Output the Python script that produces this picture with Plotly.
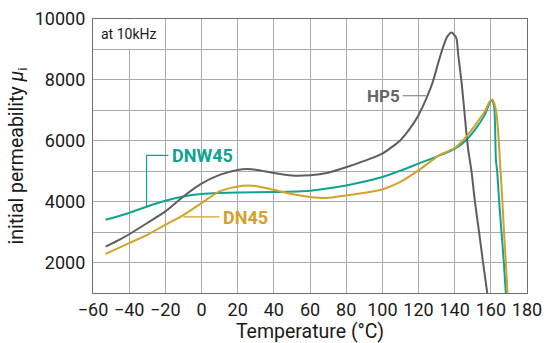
import plotly.graph_objects as go

# ---- data ----
hp5_t = [-53, -45, -40, -30, -20, -10, 0, 10, 20, 25, 30, 40, 50, 60, 70, 80, 90, 100,
         110, 115, 120, 125, 128, 131, 134, 136, 138.3, 140, 141, 142, 144, 146, 147.5,
         149.3, 151.2, 153.5, 155.7, 158]
hp5_mu = [2520, 2760, 2930, 3300, 3680, 4170, 4590, 4880, 5040, 5070, 5050, 4940, 4860,
          4870, 4950, 5130, 5340, 5580, 6020, 6380, 6840, 7480, 7950, 8580, 9150, 9430,
          9556, 9460, 9360, 8810, 7820, 6560, 5700, 5000, 4000, 3000, 2000, 1000]

dnw45_t = [-53, -40, -30, -20, -10, 0, 10, 20, 40, 60, 70, 80, 100, 110, 120, 130, 140,
           146.6, 152, 156.7, 159.8, 160.6, 161.8, 162.8, 163.5, 164.6, 165.9, 167.2, 168.3]
dnw45_mu = [3405, 3630, 3842, 4030, 4171, 4250, 4285, 4303, 4316, 4360, 4440, 4533, 4809,
            5020, 5250, 5480, 5730, 6036, 6421, 6860, 7296, 7330, 7130, 5378, 5000, 4000,
            3000, 2000, 1000]

dn45_t = [-53, -40, -30, -20, -10, 0, 10, 20, 25.7, 30, 40, 50, 60, 69, 80, 90, 100, 110,
          120, 132, 140, 146.6, 152, 156.7, 159.4, 160.9, 162.8, 164.1, 165, 166.4, 167.3,
          168.3, 169.2]
dn45_mu = [2286, 2638, 2911, 3240, 3560, 3954, 4336, 4500, 4533, 4515, 4391, 4250, 4151,
           4118, 4204, 4290, 4401, 4650, 5026, 5543, 5763, 6145, 6563, 6967, 7296, 7352,
           7023, 6257, 5378, 4000, 3000, 2000, 1000]

x_ticks = [-60, -40, -20, 0, 20, 40, 60, 80, 100, 120, 140, 160, 180]
y_ticks = [2000, 4000, 6000, 8000, 10000]

GRAY = "#5e5e5e"
TEAL = "#0fa392"
GOLD = "#d3a12a"
FONT = "Roboto"
TXT = "#1a1a1a"

fig = go.Figure()
for t, mu, c, name in [(dnw45_t, dnw45_mu, TEAL, "DNW45"),
                       (hp5_t, hp5_mu, GRAY, "HP5"),
                       (dn45_t, dn45_mu, GOLD, "DN45")]:
    fig.add_trace(go.Scatter(x=t, y=mu, mode="lines", name=name,
                             line=dict(color=c, width=2, shape="spline", smoothing=0.7),
                             showlegend=False, hoverinfo="skip"))

# white patch behind "at 10kHz"
fig.add_shape(type="rect", x0=-59.6, x1=-23.5, y0=9020, y1=9985, xref="x", yref="y",
              fillcolor="white", line=dict(width=0), layer="above")

# leader lines
fig.add_shape(type="path", path="M -30.4,3842 L -30.4,5520 L -18.3,5520",
              line=dict(color=TEAL, width=1.2), layer="above")
fig.add_shape(type="line", x0=-10, x1=10.0, y0=3500, y1=3500,
              line=dict(color=GOLD, width=1.2), layer="above")
fig.add_shape(type="line", x0=111.2, x1=124.5, y0=7480, y1=7480,
              line=dict(color="#8a8a8a", width=1.2), layer="above")

fig.add_annotation(x=-17.6, y=5520, text="<b>DNW45</b>", showarrow=False, xanchor="left",
                   yanchor="middle", font=dict(family=FONT, size=18, color=TEAL))
fig.add_annotation(x=11.0, y=3480, text="<b>DN45</b>", showarrow=False, xanchor="left",
                   yanchor="middle", font=dict(family=FONT, size=18, color=GOLD))
fig.add_annotation(x=110.8, y=7470, text="<b>HP5</b>", showarrow=False, xanchor="right",
                   yanchor="middle", font=dict(family=FONT, size=17, color="#666666"))
fig.add_annotation(x=-56.6, y=9500, text="at 10kHz", showarrow=False, xanchor="left",
                   yanchor="middle", font=dict(family=FONT, size=14, color=TXT))

axis_common = dict(showline=True, linecolor="#6e6e6e", linewidth=1.2, mirror=True,
                   showgrid=True, gridcolor="#a9a9a9", gridwidth=1, zeroline=False,
                   automargin=False,
                   ticks="", tickfont=dict(family=FONT, size=18, color=TXT))

fig.update_xaxes(range=[-60, 180], tickmode="array", tickvals=x_ticks,
                 ticktext=[("\u2212" + str(-v)) if v < 0 else str(v) for v in x_ticks],
                 title=dict(text="Temperature (°C)", standoff=7,
                            font=dict(family=FONT, size=19.5, color=TXT)),
                 **axis_common)
fig.update_yaxes(range=[1000, 10000], tickmode="array", tickvals=y_ticks,
                 ticktext=[str(v) for v in y_ticks],
                 minor=dict(dtick=1000, tick0=0, showgrid=True, gridcolor="#a9a9a9",
                            gridwidth=1),
                 ticklabelstandoff=3,
                 title=dict(text="initial permeability <i>μ</i><sub>i</sub>", standoff=5,
                            font=dict(family=FONT, size=19.5, color=TXT)),
                 **axis_common)

fig.update_layout(width=559, height=343, margin=dict(l=93, r=32, t=19, b=50),
                  plot_bgcolor="white", paper_bgcolor="white",
                  font=dict(family=FONT))
fig.write_html("out.html")
